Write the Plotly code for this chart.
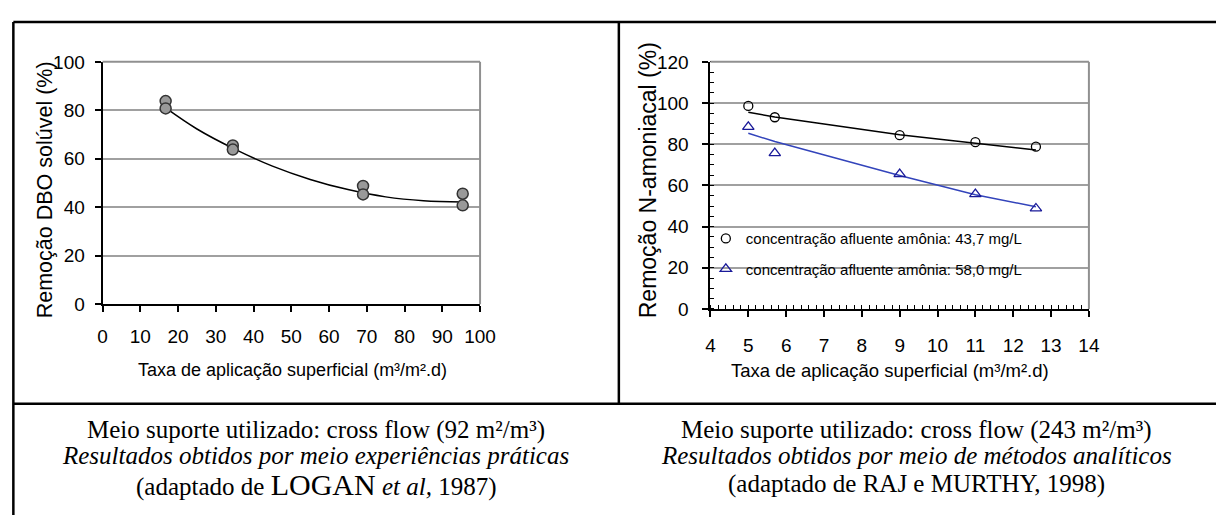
import plotly.graph_objects as go

W, H = 1232, 526

# ---- data: left chart (LOGAN et al, 1987) ----
left_pts_x = [16.7, 16.7, 34.5, 34.5, 69, 69, 95.4, 95.4]
left_pts_y = [83.8, 80.8, 65.5, 63.8, 48.8, 45.3, 45.6, 40.8]
left_curve_x = [16.7, 25, 35, 45, 55, 65, 75, 85, 95.4]
left_curve_y = [81.0, 72.3, 64.0, 57.0, 51.5, 47.3, 44.3, 42.7, 42.2]
left_xticks = [0, 10, 20, 30, 40, 50, 60, 70, 80, 90, 100]
left_yticks = [0, 20, 40, 60, 80, 100]

# ---- data: right chart (RAJ e MURTHY, 1998) ----
right_x = [5, 5.7, 9, 11, 12.6]
circ_y = [98.6, 93.1, 84.4, 81.0, 78.8]
tri_y = [88.4, 75.7, 65.5, 55.8, 48.8]
line_circ_y = [95.5, 93.2, 84.6, 80.6, 77.2]
line_tri_y = [85.3, 81.3, 64.8, 55.5, 49.6]
right_xticks = [4, 5, 6, 7, 8, 9, 10, 11, 12, 13, 14]
right_yticks = [0, 20, 40, 60, 80, 100, 120]

legend_names = ["concentração afluente amônia: 43,7 mg/L",
                "concentração afluente amônia: 58,0 mg/L"]

x_title = "Taxa de aplicação superficial (m³/m².d)"
left_y_title = "Remoção DBO solúvel (%)"
right_y_title = "Remoção N-amoniacal (%)"

captions_left = ["Meio suporte utilizado: cross flow (92 m²/m³)",
                 "<i>Resultados obtidos por meio experiências práticas</i>",
                 "(adaptado de <span style='font-size:30px'>LOGAN</span> <i>et al,</i> 1987)"]
captions_right = ["Meio suporte utilizado: cross flow (243 m²/m³)",
                  "<i>Resultados obtidos por meio de métodos analíticos</i>",
                  "(adaptado de RAJ e MURTHY, 1998)"]

SANS = "Liberation Sans, Arial, sans-serif"
SERIF = "Liberation Serif, Times New Roman, serif"


def px(x):
    return x / W


def py(y):
    return 1 - y / H


fig = go.Figure()

# left chart
fig.add_trace(go.Scatter(x=left_curve_x, y=left_curve_y, mode="lines",
                         line=dict(color="black", width=1.5, shape="spline", smoothing=1.0),
                         xaxis="x", yaxis="y", showlegend=False, hoverinfo="skip"))
fig.add_trace(go.Scatter(x=left_pts_x, y=left_pts_y, mode="markers",
                         marker=dict(size=11, color="#999999",
                                     line=dict(color="#333333", width=1.5)),
                         xaxis="x", yaxis="y", showlegend=False))

# right chart
fig.add_trace(go.Scatter(x=right_x, y=line_circ_y, mode="lines",
                         line=dict(color="black", width=1.5),
                         xaxis="x2", yaxis="y2", showlegend=False, hoverinfo="skip"))
fig.add_trace(go.Scatter(x=right_x, y=line_tri_y, mode="lines",
                         line=dict(color="#3344bb", width=1.5),
                         xaxis="x2", yaxis="y2", showlegend=False, hoverinfo="skip"))
fig.add_trace(go.Scatter(x=right_x, y=circ_y, mode="markers", name=legend_names[0],
                         marker=dict(symbol="circle-open", size=9, color="black",
                                     line=dict(width=1.3)),
                         xaxis="x2", yaxis="y2", legendgroup="a"))
fig.add_trace(go.Scatter(x=right_x, y=tri_y, mode="markers", name=legend_names[1],
                         marker=dict(symbol="triangle-up-open", size=10, color="#1a1a99",
                                     line=dict(width=1.3)),
                         xaxis="x2", yaxis="y2", legendgroup="b"))

axis_common = dict(showline=True, linecolor="black", linewidth=2, ticks="outside",
                   tickcolor="black", tickwidth=1.5, ticklen=6, zeroline=False,
                   tickfont=dict(family=SANS, size=19, color="black"))

fig.update_layout(
    width=W, height=H, margin=dict(l=0, r=0, t=0, b=0),
    paper_bgcolor="white", plot_bgcolor="white",
    xaxis=dict(domain=[px(99.3), px(483.3)], range=[0, 100], tickvals=left_xticks,
               showgrid=False, anchor="y", ticklabelstandoff=8, **axis_common),
    yaxis=dict(domain=[py(306.5), py(54)], range=[0, 100], tickvals=left_yticks,
               showgrid=True, gridcolor="#a0a0a0", gridwidth=1.5, anchor="x",
               ticklabelstandoff=6, **axis_common),
    xaxis2=dict(domain=[px(717.7), px(1102.7)], range=[4, 14], tickvals=right_xticks,
                showgrid=False, anchor="y2", ticklabelstandoff=12,
                minor=dict(dtick=0.2, ticks="inside", ticklen=4, tickcolor="black",
                           tickwidth=1, showgrid=False),
                **axis_common),
    yaxis2=dict(domain=[py(311.4), py(54)], range=[0, 120], tickvals=right_yticks,
                showgrid=True, gridcolor="#a0a0a0", gridwidth=1.5, anchor="x2",
                ticklabelstandoff=10,
                minor=dict(dtick=5, ticks="inside", ticklen=4, tickcolor="black",
                           tickwidth=1, showgrid=False),
                **axis_common),
    legend=dict(x=px(713), y=py(221), xanchor="left", yanchor="top",
                bgcolor="rgba(0,0,0,0)", borderwidth=0,
                font=dict(family=SANS, size=15, color="black"),
                tracegroupgap=8, itemwidth=30),
    showlegend=True,
)

shapes = []
# gray plot-area borders (top and right)
for xr, yr in (("x domain", "y domain"), ("x2 domain", "y2 domain")):
    shapes.append(dict(type="line", xref=xr, yref=yr, x0=0, x1=1, y0=1, y1=1,
                       line=dict(color="#909090", width=2)))
    shapes.append(dict(type="line", xref=xr, yref=yr, x0=1, x1=1, y0=0, y1=1,
                       line=dict(color="#909090", width=2)))
# white background behind legend (hides gridline)
shapes.append(dict(type="rect", xref="paper", yref="paper", layer="between",
                   x0=px(725), x1=px(1040), y0=py(288), y1=py(232),
                   fillcolor="white", line=dict(width=0)))
# table borders
tline = dict(color="black", width=2.5)
shapes += [
    dict(type="line", xref="paper", yref="paper", x0=px(8.5), x1=1.0, y0=py(12.5), y1=py(12.5), line=tline),
    dict(type="line", xref="paper", yref="paper", x0=px(8.5), x1=px(8.5), y0=py(12.5), y1=0.0, line=tline),
    dict(type="line", xref="paper", yref="paper", x0=px(624.5), x1=px(624.5), y0=py(12.5), y1=py(410), line=tline),
    dict(type="line", xref="paper", yref="paper", x0=px(8.5), x1=1.0, y0=py(410), y1=py(410), line=tline),
]
fig.update_layout(shapes=shapes)

annotations = []
# axis titles
annotations.append(dict(text=left_y_title, xref="paper", yref="paper", x=px(41), y=py(187.5),
                        textangle=-90, showarrow=False, xanchor="center", yanchor="middle",
                        font=dict(family=SANS, size=21.5, color="black")))
annotations.append(dict(text=right_y_title, xref="paper", yref="paper", x=px(655), y=py(177.5),
                        textangle=-90, showarrow=False, xanchor="center", yanchor="middle",
                        font=dict(family=SANS, size=23, color="black")))
annotations.append(dict(text=x_title, xref="paper", yref="paper", x=px(292), y=py(375),
                        showarrow=False, xanchor="center", yanchor="middle",
                        font=dict(family=SANS, size=18, color="black")))
annotations.append(dict(text=x_title, xref="paper", yref="paper", x=px(900.5), y=py(375),
                        showarrow=False, xanchor="center", yanchor="middle",
                        font=dict(family=SANS, size=18.5, color="black")))

cap_y = [437, 464, 494]
for i, t in enumerate(captions_left):
    annotations.append(dict(text=t, xref="paper", yref="paper", x=px(316), y=py(cap_y[i]),
                            xanchor="center", yanchor="middle", showarrow=False,
                            font=dict(family=SERIF, size=25, color="black")))
for i, t in enumerate(captions_right):
    annotations.append(dict(text=t, xref="paper", yref="paper", x=px(927), y=py(cap_y[i]),
                            xanchor="center", yanchor="middle", showarrow=False,
                            font=dict(family=SERIF, size=25, color="black")))
fig.update_layout(annotations=annotations)

fig.write_html("out.html")
